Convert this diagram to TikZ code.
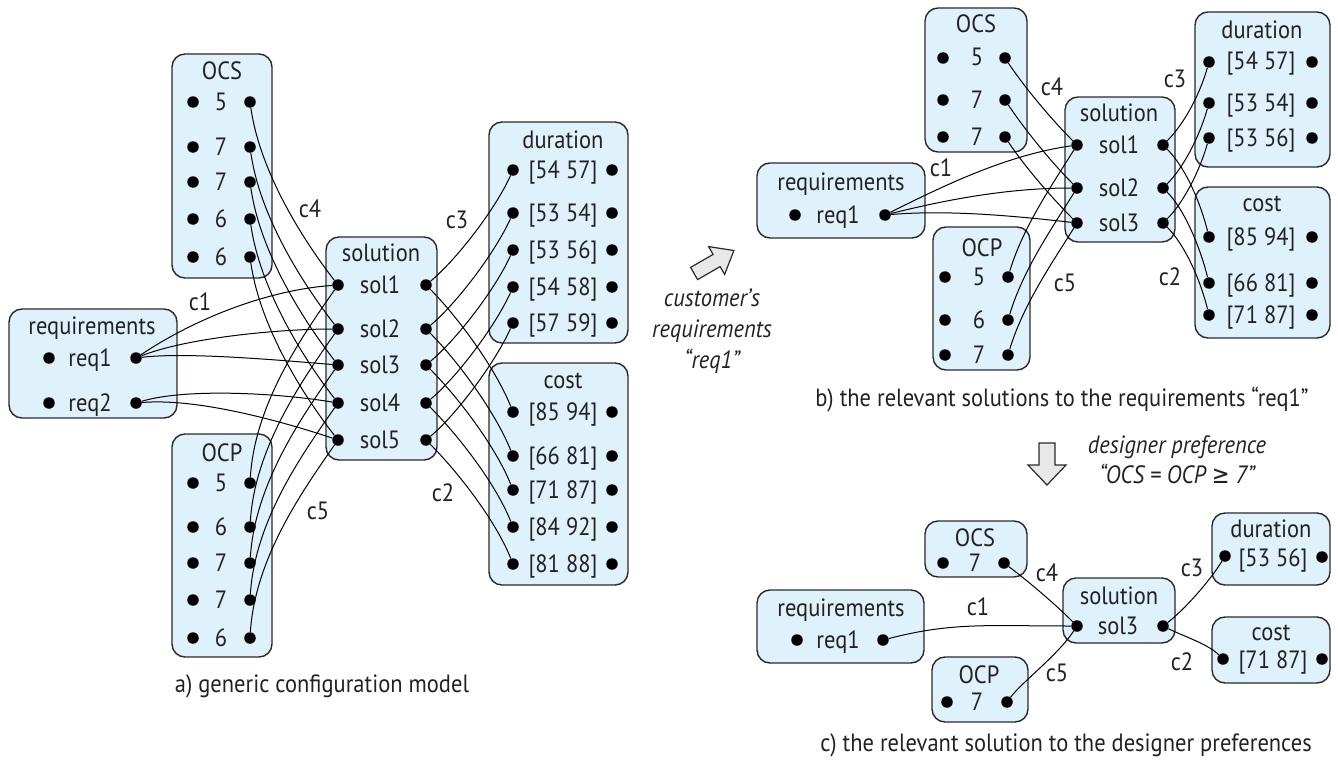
\documentclass[tikz,border=0pt]{standalone}
\usepackage{fontspec}
\setmainfont{PT Sans}[FakeStretch=0.9]
\newfontfamily\symfont{DejaVu Sans}[FakeStretch=0.85]
\usetikzlibrary{fit}
\definecolor{boxfill}{HTML}{DFF1FA}
\definecolor{boxline}{HTML}{2A2A2A}
\definecolor{arrowfill}{HTML}{E8E8E8}
\definecolor{txt}{HTML}{222222}
\begin{document}
\begin{tikzpicture}[x=1pt,y=-1pt,
  box/.style={draw=boxline, fill=boxfill, rounded corners=13pt, line width=1.4pt, inner sep=0pt},
  dot/.style={circle, fill=black, inner sep=0pt, minimum size=11.5pt},
  lbl/.style={inner sep=0pt, text height=18pt, text depth=2pt, text=txt, font=\fontsize{25}{28}\selectfont},
  captext/.style={inner sep=0pt, text=txt, font=\fontsize{25}{31}\selectfont, align=center},
  conn/.style={line width=1pt, draw=black},
  blockarrow/.style={draw=boxline, fill=arrowfill, line width=1.2pt, line join=miter}]
\useasboundingbox (0,0) rectangle (1338,760);

% ================= PART A =================
\node[box, fit={(172,54) (272,278)}] (a-ocs) {};
\node[box, fit={(9,309) (177,418)}] (a-req) {};
\node[box, fit={(172,434) (272,657)}] (a-ocp) {};
\node[box, fit={(326,237) (437,460)}] (a-sol) {};
\node[box, fit={(489,122) (628,343)}] (a-dur) {};
\node[box, fit={(489,363) (628,585)}] (a-cost) {};

\node[lbl] (a-ocs-title) at (222,72) {OCS};
\node[lbl] (a-req-title) at (92,326) {requirements};
\node[lbl] (a-ocp-title) at (222,453) {OCP};
\node[lbl] (a-sol-title) at (381,253) {solution};
\node[lbl] (a-dur-title) at (563,140) {duration};
\node[lbl] (a-cost-title) at (563,380) {cost};

\foreach \v/\y [count=\i] in {5/102,7/147,7/182,6/219,6/257} {
  \node[dot] (a-ocs-\i-l) at (193,\y) {};
  \node[lbl] (a-ocs-\i-t) at (221,\y) {\v};
  \node[dot] (a-ocs-\i-r) at (250,\y) {};
}
\foreach \v/\y [count=\i] in {5/483,6/527,7/563,7/600,6/638} {
  \node[dot] (a-ocp-\i-l) at (193,\y) {};
  \node[lbl] (a-ocp-\i-t) at (221,\y) {\v};
  \node[dot] (a-ocp-\i-r) at (250,\y) {};
}
\foreach \v/\y [count=\i] in {req1/358,req2/403} {
  \node[dot] (a-req-\i-l) at (49,\y) {};
  \node[lbl] (a-req-\i-t) at (90,\y) {\v};
  \node[dot] (a-req-\i-r) at (136,\y) {};
}
\foreach \y [count=\i] in {285,329,365,403,440} {
  \node[dot] (a-sol-\i-l) at (338,\y) {};
  \node[lbl] (a-sol-\i-t) at (380,\y) {sol\i};
  \node[dot] (a-sol-\i-r) at (426,\y) {};
}
\foreach \v/\y [count=\i] in {{[54 57]}/170,{[53 54]}/213,{[53 56]}/250,{[54 58]}/287,{[57 59]}/323} {
  \node[dot] (a-dur-\i-l) at (513,\y) {};
  \node[lbl] (a-dur-\i-t) at (563,\y) {\v};
  \node[dot] (a-dur-\i-r) at (612,\y) {};
}
\foreach \v/\y [count=\i] in {{[85 94]}/412,{[66 81]}/456,{[71 87]}/490,{[84 92]}/527,{[81 88]}/564} {
  \node[dot] (a-cost-\i-l) at (513,\y) {};
  \node[lbl] (a-cost-\i-t) at (563,\y) {\v};
  \node[dot] (a-cost-\i-r) at (612,\y) {};
}

\foreach \i in {1,...,5} {
  \draw[conn] (a-ocs-\i-r) .. controls +(10,70) and +(-35,-45) .. (a-sol-\i-l);
  \draw[conn] (a-ocp-\i-r) .. controls +(5,-80) and +(-35,50) .. (a-sol-\i-l);
  \draw[conn] (a-sol-\i-r) .. controls +(30,-25) and +(-18,40) .. (a-dur-\i-l);
  \draw[conn] (a-sol-\i-r) .. controls +(30,30) and +(-18,-45) .. (a-cost-\i-l);
}
\draw[conn] (a-req-1-r) .. controls +(60,-40) and +(-70,5) .. (a-sol-1-l);
\draw[conn] (a-req-1-r) .. controls +(50,-20) and +(-60,0) .. (a-sol-2-l);
\draw[conn] (a-req-1-r) .. controls +(50,-6) and +(-60,-5) .. (a-sol-3-l);
\draw[conn] (a-req-2-r) .. controls +(50,-15) and +(-60,-10) .. (a-sol-4-l);
\draw[conn] (a-req-2-r) .. controls +(60,-5) and +(-60,-20) .. (a-sol-5-l);

\node[lbl] (a-c1) at (200,302) {c1};
\node[lbl] (a-c4) at (310,209) {c4};
\node[lbl] (a-c3) at (457,220) {c3};
\node[lbl] (a-c2) at (443,493) {c2};
\node[lbl] (a-c5) at (318,511) {c5};
\node[captext] (a-caption) at (322,686) {a) generic configuration model};

% ================= ARROW a -> b =================
\draw[blockarrow] (697.6,279.6) -- (690.6,267.4) -- (713.1,254.4) -- (708.6,246.6)
  -- (733.9,250.5) -- (724.6,274.4) -- (720.1,266.6) -- cycle;
\node[captext, font=\fontsize{25}{31}\selectfont\itshape] (cust) at (712,331)
  {customer’s\\requirements\\“req1”};

% ================= PART B =================
\node[box, fit={(925,8) (1027,152)}] (b-ocs) {};
\node[box, fit={(757,163) (925,238)}] (b-req) {};
\node[box, fit={(933,227) (1030,370)}] (b-ocp) {};
\node[box, fit={(1065,97) (1175,242)}] (b-sol) {};
\node[box, fit={(1195,12) (1330,167)}] (b-dur) {};
\node[box, fit={(1195,187) (1330,338)}] (b-cost) {};

\node[lbl] (b-ocs-title) at (976,25) {OCS};
\node[lbl] (b-req-title) at (841,182) {requirements};
\node[lbl] (b-ocp-title) at (982,248) {OCP};
\node[lbl] (b-sol-title) at (1119,113) {solution};
\node[lbl] (b-dur-title) at (1262,30) {duration};
\node[lbl] (b-cost-title) at (1262,203) {cost};

\foreach \v/\y [count=\i] in {5/58,7/100,7/137} {
  \node[dot] (b-ocs-\i-l) at (943,\y) {};
  \node[lbl] (b-ocs-\i-t) at (977,\y) {\v};
  \node[dot] (b-ocs-\i-r) at (1005,\y) {};
}
\foreach \v/\y [count=\i] in {5/277,6/320,7/355} {
  \node[dot] (b-ocp-\i-l) at (945,\y) {};
  \node[lbl] (b-ocp-\i-t) at (979,\y) {\v};
  \node[dot] (b-ocp-\i-r) at (1008,\y) {};
}
\node[dot] (b-req-1-l) at (795,215) {};
\node[lbl] (b-req-1-t) at (838,215) {req1};
\node[dot] (b-req-1-r) at (885,215) {};
\foreach \y [count=\i] in {145,188,223} {
  \node[dot] (b-sol-\i-l) at (1077,\y) {};
  \node[lbl] (b-sol-\i-t) at (1119,\y) {sol\i};
  \node[dot] (b-sol-\i-r) at (1163,\y) {};
}
\foreach \v/\y [count=\i] in {{[54 57]}/62,{[53 54]}/103,{[53 56]}/138} {
  \node[dot] (b-dur-\i-l) at (1209,\y) {};
  \node[lbl] (b-dur-\i-t) at (1261,\y) {\v};
  \node[dot] (b-dur-\i-r) at (1312,\y) {};
}
\foreach \v/\y [count=\i] in {{[85 94]}/237,{[66 81]}/283,{[71 87]}/315} {
  \node[dot] (b-cost-\i-l) at (1209,\y) {};
  \node[lbl] (b-cost-\i-t) at (1261,\y) {\v};
  \node[dot] (b-cost-\i-r) at (1312,\y) {};
}
\foreach \i in {1,2,3} {
  \draw[conn] (b-ocs-\i-r) .. controls +(20,30) and +(-25,-25) .. (b-sol-\i-l);
  \draw[conn] (b-ocp-\i-r) .. controls +(15,-50) and +(-25,40) .. (b-sol-\i-l);
  \draw[conn] (b-sol-\i-r) .. controls +(20,-20) and +(-10,35) .. (b-dur-\i-l);
  \draw[conn] (b-sol-\i-r) .. controls +(20,20) and +(-10,-40) .. (b-cost-\i-l);
}
\draw[conn] (b-req-1-r) .. controls +(60,-30) and +(-70,10) .. (b-sol-1-l);
\draw[conn] (b-req-1-r) .. controls +(60,-15) and +(-70,0) .. (b-sol-2-l);
\draw[conn] (b-req-1-r) .. controls +(60,-5) and +(-70,-8) .. (b-sol-3-l);

\node[lbl] (b-c4) at (1052,87) {c4};
\node[lbl] (b-c3) at (1175,80) {c3};
\node[lbl] (b-c1) at (941,168) {c1};
\node[lbl] (b-c5) at (1065,283) {c5};
\node[lbl] (b-c2) at (1170,277) {c2};
\node[captext] (b-caption) at (1062,400) {b) the relevant solutions to the requirements “req1”};

% ================= ARROW b -> c =================
\draw[blockarrow] (1039,443) -- (1055,443) -- (1055,465) -- (1066,465) -- (1047,485)
  -- (1028,465) -- (1039,465) -- cycle;
\node[captext, font=\fontsize{25}{30}\selectfont\itshape] (designer) at (1177,460)
  {designer preference\\“OCS = OCP {\symfont\itshape ≥} 7”};

% ================= PART C =================
\node[box, fit={(925,521) (1027,577)}] (c-ocs) {};
\node[box, fit={(757,590) (924,663)}] (c-req) {};
\node[box, fit={(932,657) (1028,722)}] (c-ocp) {};
\node[box, fit={(1063,578) (1175,643)}] (c-sol) {};
\node[box, fit={(1212,513) (1330,585)}] (c-dur) {};
\node[box, fit={(1212,617) (1330,683)}] (c-cost) {};

\node[lbl] (c-ocs-title) at (975,538) {OCS};
\node[dot] (c-ocs-1-l) at (943,563) {};
\node[lbl] (c-ocs-1-t) at (975,563) {7};
\node[dot] (c-ocs-1-r) at (1004,563) {};

\node[lbl] (c-req-title) at (841,608) {requirements};
\node[dot] (c-req-1-l) at (797,640) {};
\node[lbl] (c-req-1-t) at (838,640) {req1};
\node[dot] (c-req-1-r) at (883,640) {};

\node[lbl] (c-ocp-title) at (979,675) {OCP};
\node[dot] (c-ocp-1-l) at (947,702) {};
\node[lbl] (c-ocp-1-t) at (977,702) {7};
\node[dot] (c-ocp-1-r) at (1007,702) {};

\node[lbl] (c-sol-title) at (1119,596) {solution};
\node[dot] (c-sol-1-l) at (1077,626) {};
\node[lbl] (c-sol-1-t) at (1118,626) {sol3};
\node[dot] (c-sol-1-r) at (1163,626) {};

\node[lbl] (c-dur-title) at (1271,529) {duration};
\node[dot] (c-dur-1-l) at (1225,556) {};
\node[lbl] (c-dur-1-t) at (1273,558) {[53 56]};
\node[dot] (c-dur-1-r) at (1322,557) {};

\node[lbl] (c-cost-title) at (1271,632) {cost};
\node[dot] (c-cost-1-l) at (1223,659) {};
\node[lbl] (c-cost-1-t) at (1273,660) {[71 87]};
\node[dot] (c-cost-1-r) at (1322,659) {};

\draw[conn] (c-req-1-r) .. controls +(70,-18) and +(-90,0) .. (c-sol-1-l);
\draw[conn] (c-ocs-1-r) .. controls +(20,15) and +(-25,-25) .. (c-sol-1-l);
\draw[conn] (c-ocp-1-r) .. controls +(15,-20) and +(-20,30) .. (c-sol-1-l);
\draw[conn] (c-sol-1-r) .. controls +(20,-15) and +(-15,25) .. (c-dur-1-l);
\draw[conn] (c-sol-1-r) .. controls +(20,10) and +(-15,-15) .. (c-cost-1-l);

\node[lbl] (c-c4) at (1047,573) {c4};
\node[lbl] (c-c1) at (978,607) {c1};
\node[lbl] (c-c5) at (1057,673) {c5};
\node[lbl] (c-c3) at (1192,568) {c3};
\node[lbl] (c-c2) at (1182,662) {c2};
\node[captext] (c-caption) at (1066,745) {c) the relevant solution to the designer preferences};
\end{tikzpicture}
\end{document}
